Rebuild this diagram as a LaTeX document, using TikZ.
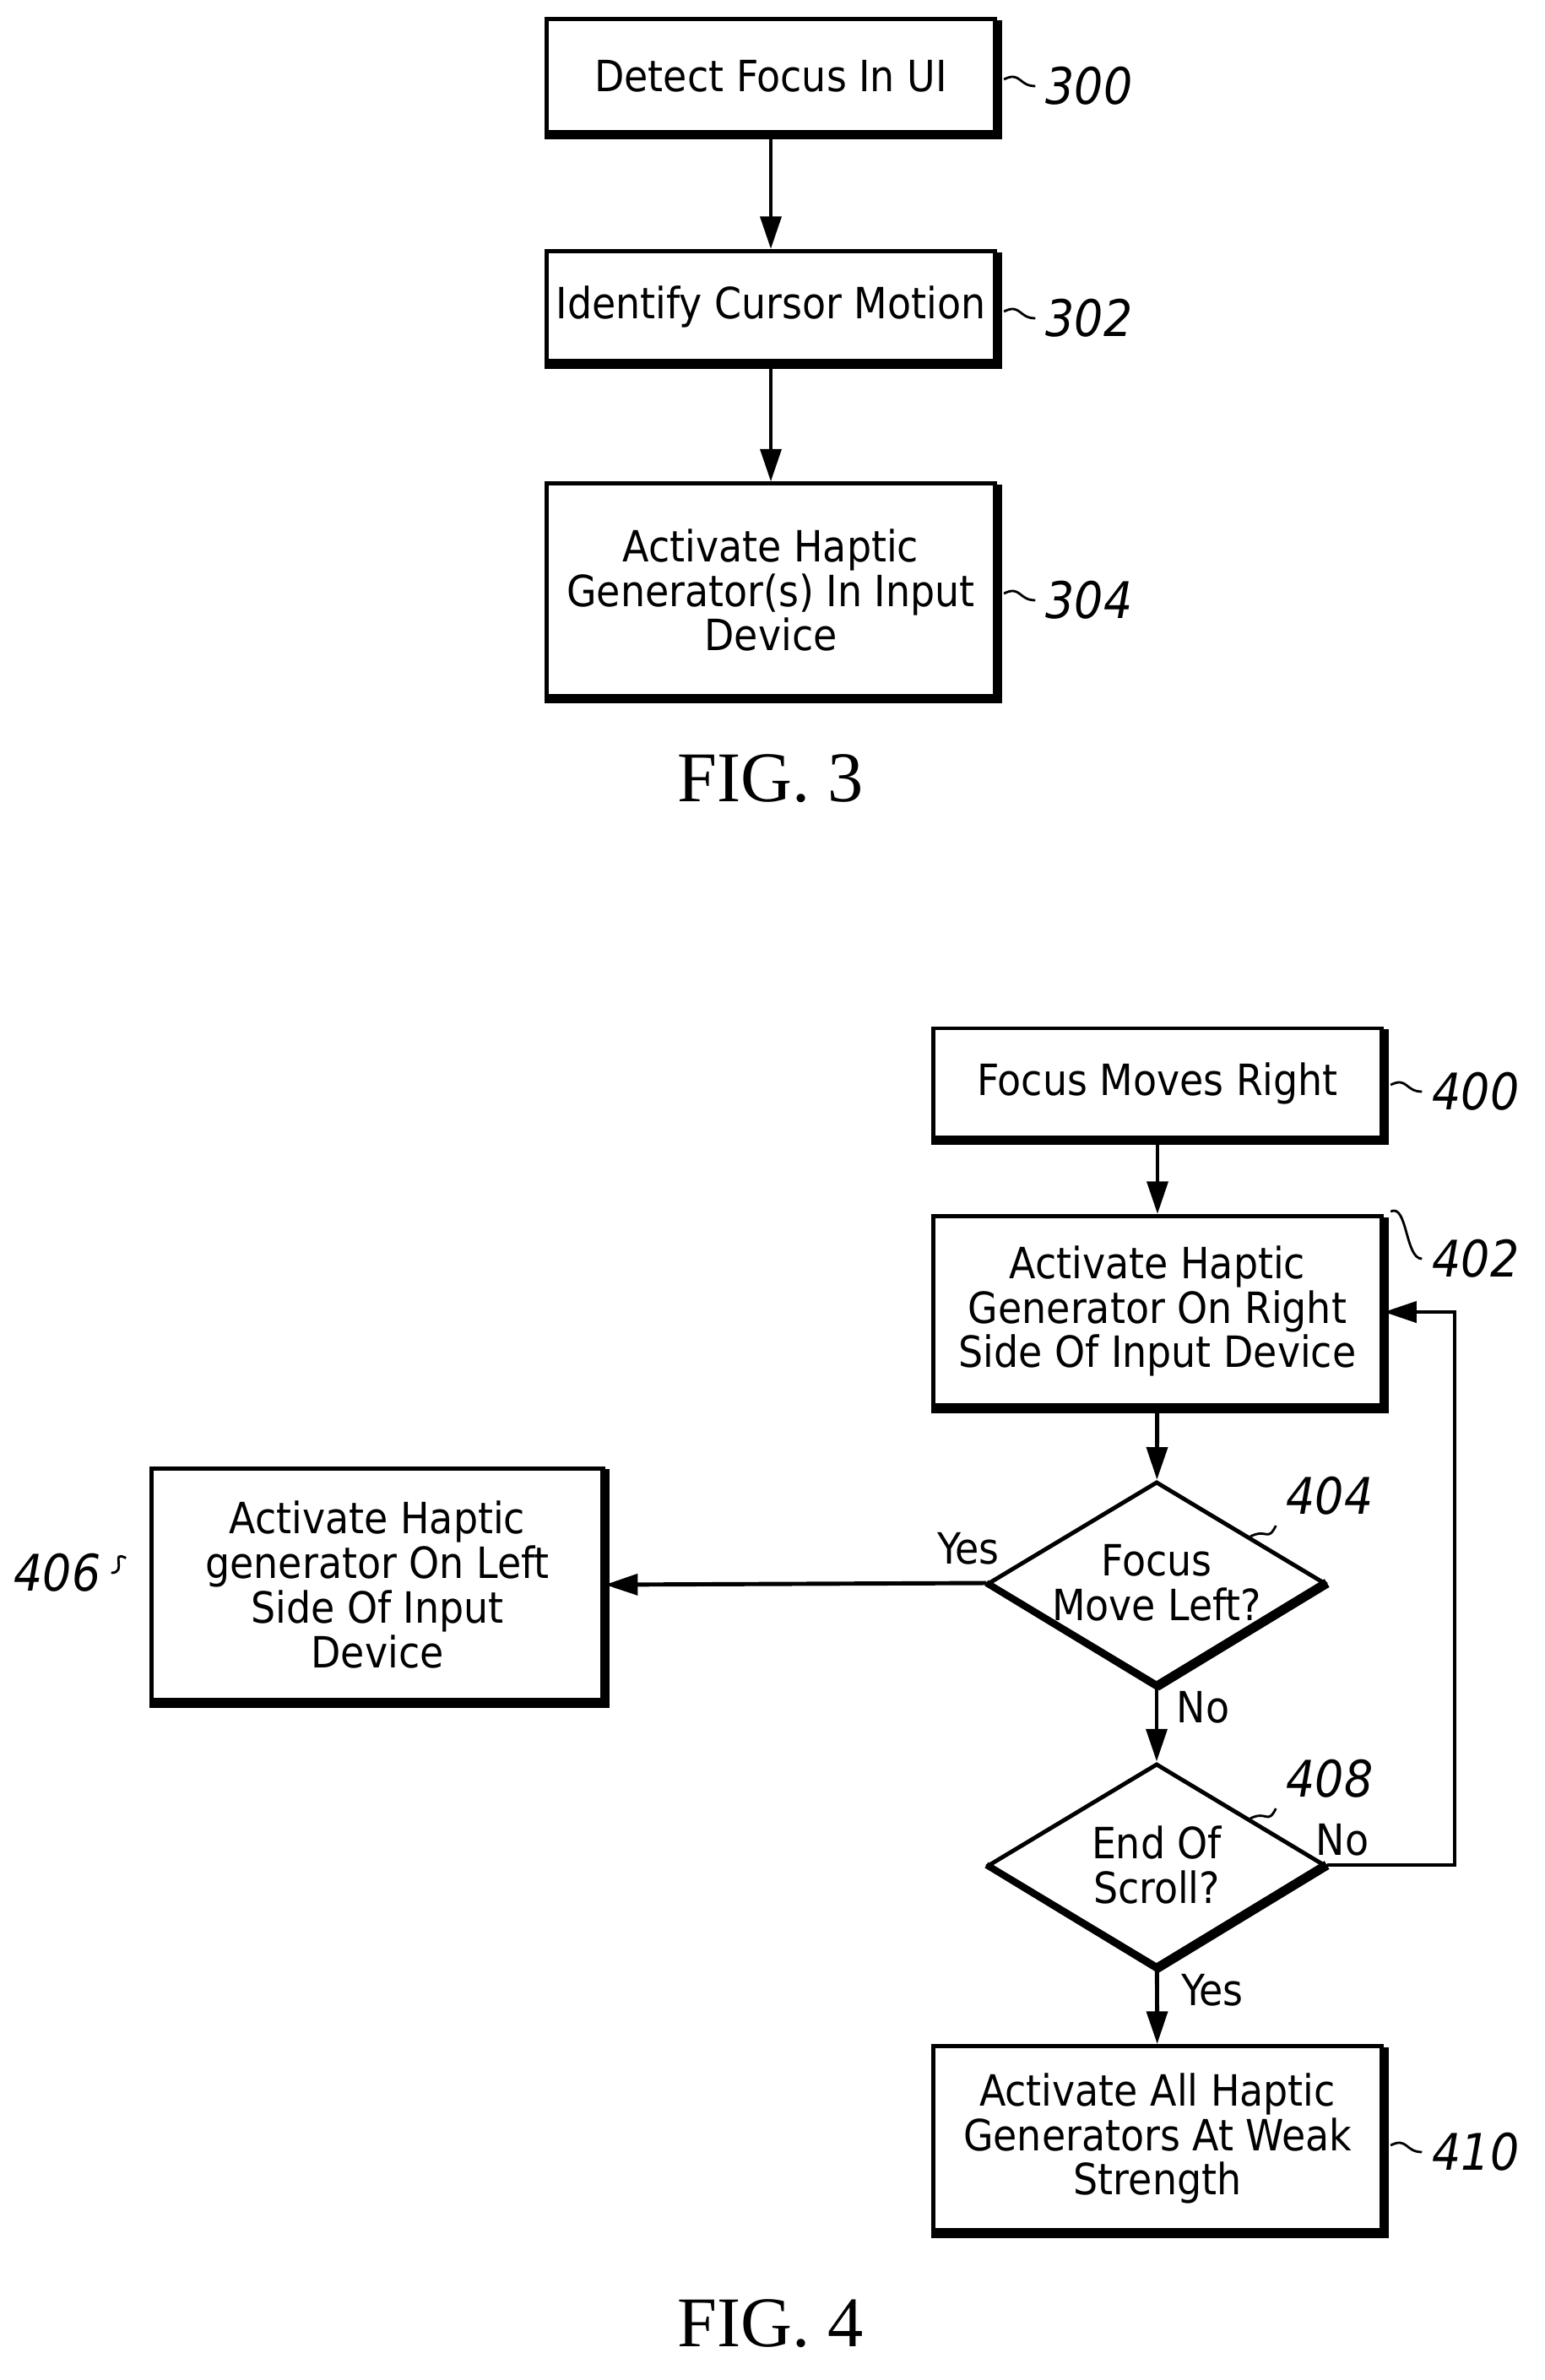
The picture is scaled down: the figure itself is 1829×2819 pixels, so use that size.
\documentclass[tikz,border=0pt]{standalone}
\usepackage{fontspec}
\setmainfont{DejaVu Sans Condensed}
\newfontfamily\figfont{Liberation Serif}
\usetikzlibrary{shapes.geometric,arrows.meta,calc}
\begin{document}
\begin{tikzpicture}[x=0.01cm,y=-0.01cm,
  box/.style={draw,line width=1.4pt,minimum width=5.31cm,align=center,font=\fontsize{14.5}{15}\selectfont,inner sep=0pt},
  dia/.style={draw,diamond,line width=1.4pt,minimum width=3.98cm,minimum height=2.40cm,align=center,font=\fontsize{14.5}{15}\selectfont,inner sep=0pt,aspect=1.66},
  shad/.style={line width=3.2pt},
  arr/.style={line width=1.4pt,-{Triangle[length=11pt,width=7pt]}},
  ref/.style={font=\fontsize{17}{17}\selectfont\itshape},
  lead/.style={line width=0.8pt},
  lab/.style={font=\fontsize{14.5}{15}\selectfont},
  fig/.style={font=\figfont\fontsize{24}{24}\selectfont}]
\useasboundingbox (0,0) rectangle (1829,2819);
% FIG 3
\node[box,minimum height=1.34cm] (b300) at (913,90) {Detect Focus In UI};
\node[box,minimum height=1.31cm] (b302) at (913,363) {Identify Cursor Motion};
\node[box,minimum height=2.52cm] (b304) at (913,699) {Activate Haptic\\Generator(s) In Input\\Device};
\foreach \n in {b300,b302,b304}{\draw[shad] ([yshift=-1pt]\n.north east)--(\n.south east)--(\n.south west);}
\draw[arr] (b300) -- (b302);
\draw[arr] (b302) -- (b304);
\node[ref] (r300) at (1290,102) {300};
\node[ref] (r302) at (1290,377) {302};
\node[ref] (r304) at (1290,711) {304};
\draw[lead] (b300.east|-r300.west) ++(8,-8) .. controls +(20,-10) and +(-20,0) .. (r300.west);
\draw[lead] (b302.east|-r302.west) ++(8,-8) .. controls +(20,-10) and +(-20,0) .. (r302.west);
\draw[lead] (b304.east|-r304.west) ++(8,-8) .. controls +(20,-10) and +(-20,0) .. (r304.west);
\node[fig] (f3) at (913,922) {FIG. 3};
% FIG 4
\node[box,minimum height=1.30cm] (b400) at (1371,1283) {Focus Moves Right};
\node[box,minimum height=2.25cm] (b402) at (1371,1553) {Activate Haptic\\Generator On Right\\Side Of Input Device};
\node[dia] (d404) at (1370,1875) {Focus\\Move Left?};
\node[dia] (d408) at (1370,2209) {End Of\\Scroll?};
\node[box,minimum height=2.19cm] (b410) at (1371,2533) {Activate All Haptic\\Generators At Weak\\Strength};
\node[box,minimum width=5.34cm,minimum height=2.75cm] (b406) at (447,1877) {Activate Haptic\\generator On Left\\Side Of Input\\Device};
\foreach \n in {b400,b402,b410,b406}{\draw[shad] ([yshift=-1pt]\n.north east)--(\n.south east)--(\n.south west);}
\foreach \n in {d404,d408}{\draw[shad] (\n.east)--(\n.south); \draw[line width=2.2pt] (\n.south)--(\n.west);}
\draw[arr] (b400) -- (b402);
\draw[arr] (b402) -- (d404);
\draw[arr] (d404) -- (d408);
\draw[arr] (d408) -- (b410);
\draw[arr] (d404.west) -- (b406.east);
\coordinate (c1) at (1723,2209);
\coordinate (c2) at (1723,1554);
\draw[arr] (d408.east) -- (c1) -- (c2) -- (b402.east|-c2);
\node[lab] (yes1) at (1147,1834) {Yes};
\node[lab] (no1) at (1425,2022) {No};
\node[lab] (no2) at (1590,2179) {No};
\node[lab] (yes2) at (1436,2357) {Yes};
\node[ref] (r400) at (1748,1293) {400};
\node[ref] (r402) at (1748,1491) {402};
\node[ref] (r410) at (1748,2549) {410};
\node[ref] (r404) at (1575,1772) {404};
\node[ref] (r408) at (1575,2107) {408};
\node[ref] (r406) at (68,1863) {406};
\draw[lead] (b400.east|-r400.west) ++(8,-8) .. controls +(20,-10) and +(-20,0) .. (r400.west);
\draw[lead] (b402.north east) ++(8,-3) .. controls +(20,-10) and +(-20,0) .. (r402.west);
\draw[lead] (b410.east|-r410.west) ++(8,-8) .. controls +(20,-10) and +(-20,0) .. (r410.west);
\draw[lead] (r406.east) .. controls +(20,0) and +(-20,-10) .. ([xshift=-8pt,yshift=5pt]b406.west|-r406.east);
\draw[lead] ($(d404.north)!0.55!(d404.east)$) .. controls +(20,-10) and +(-10,20) .. (r404.south west);
\draw[lead] ($(d408.north)!0.55!(d408.east)$) .. controls +(20,-10) and +(-10,20) .. (r408.south west);
\node[fig] (f4) at (913,2752) {FIG. 4};
\end{tikzpicture}
\end{document}
